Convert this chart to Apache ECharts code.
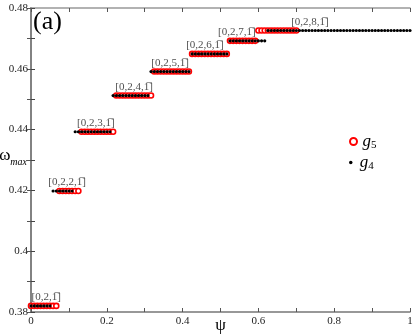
<!DOCTYPE html>
<html><head><meta charset="utf-8">
<script src="https://cdn.jsdelivr.net/npm/echarts@6/dist/echarts.min.js"></script>
<style>html,body{margin:0;padding:0;background:#fff}#c{width:415px;height:335px}</style>
</head><body><div id="c"></div>
<script>
// sampling step along psi
var psiStep = 1 / 120;
// plateau values omega_max for [0,2,n,1bar], n = 1..8
var plateauOmega = [0.382, 0.4198, 0.4393, 0.4512, 0.4591, 0.4649, 0.4692, 0.4726];
var plateauLabels = ['[0,2,1\u0305]', '[0,2,2,1\u0305]', '[0,2,3,1\u0305]', '[0,2,4,1\u0305]', '[0,2,5,1\u0305]', '[0,2,6,1\u0305]', '[0,2,7,1\u0305]', '[0,2,8,1\u0305]'];
var labelPsi = [0.04, 0.095, 0.171, 0.272, 0.367, 0.459, 0.543, 0.736];
// psi ranges (start, end) of each plateau, g5 series
var g5Start = [0.000, 0.075, 0.133, 0.225, 0.325, 0.425, 0.525, 0.600];
var g5End   = [0.0667, 0.125, 0.2167, 0.3167, 0.4167, 0.5167, 0.5917, 0.700];
// psi ranges of each plateau, g4 series
var g4Start = [0.000, 0.0583, 0.1167, 0.2167, 0.3167, 0.425, 0.525, 0.625];
var g4End   = [0.050, 0.1083, 0.2083, 0.3083, 0.4167, 0.5167, 0.6167, 1.000];
var xTicks = [0, 0.2, 0.4, 0.6, 0.8, 1];
var yTicks = [0.38, 0.4, 0.42, 0.44, 0.46, 0.48];

function expand(starts, ends) {
  var out = [];
  for (var p = 0; p < starts.length; p++) {
    var i0 = Math.round(starts[p] / psiStep), i1 = Math.round(ends[p] / psiStep);
    for (var i = i0; i <= i1; i++) out.push([+(i * psiStep).toFixed(5), plateauOmega[p]]);
  }
  return out;
}
var g5 = expand(g5Start, g5End);
var g4 = expand(g4Start, g4End);
var labelData = plateauLabels.map(function (t, k) { return {value: [labelPsi[k], plateauOmega[k]], name: t}; });

var serif = 'Liberation Serif';
function onTick(list, v) { return list.some(function (t) { return Math.abs(t - v) < 1e-6; }); }
var legendText = {rich: {
  g: {fontFamily: serif, fontStyle: 'italic', fontSize: 17, color: '#000'},
  s: {fontFamily: serif, fontSize: 11, color: '#000', verticalAlign: 'bottom', padding: [8, 0, 0, 0]}
}};
function legendFmt(n) { return '{g|g}{s|' + n.slice(1) + '}'; }

var chart = echarts.init(document.getElementById('c'));
chart.setOption({
  animation: false,
  grid: {left: 31, right: 5, top: 8, bottom: 23, containLabel: false, outerBoundsMode: 'none'},
  legend: [{
    left: 344, top: 128, itemWidth: 8, itemHeight: 7, itemGap: 4,
    data: [{name: 'g5', icon: 'circle'}], formatter: legendFmt, textStyle: legendText
  }, {
    left: 344, top: 149, itemWidth: 8, itemHeight: 3.5, itemGap: 4,
    data: [{name: 'g4', icon: 'circle'}], formatter: legendFmt, textStyle: legendText
  }],
  xAxis: [{
    type: 'value', min: 0, max: 1, interval: 0.1,
    axisLine: {onZero: false, lineStyle: {color: '#777', width: 1.5}},
    axisTick: {inside: true, length: 4, lineStyle: {color: '#555'}},
    splitLine: {show: false},
    axisLabel: {margin: 4, fontFamily: serif, fontSize: 11, color: '#222',
      formatter: function (v) { return onTick(xTicks, v) ? String(+v.toFixed(1)) : ''; }},
    name: '\u03c8', nameLocation: 'middle', nameGap: 5, nameMoveOverlap: false,
    nameTextStyle: {fontFamily: serif, fontSize: 17, color: '#000', verticalAlign: 'top'}
  }, {
    type: 'value', position: 'top', min: 0, max: 1, interval: 0.1,
    axisLine: {lineStyle: {color: '#999', width: 1.5}},
    axisTick: {inside: true, length: 4, lineStyle: {color: '#555'}},
    axisLabel: {show: false}, splitLine: {show: false}
  }],
  yAxis: [{
    type: 'value', min: 0.38, max: 0.48, interval: 0.01,
    axisLine: {show: true, onZero: false, lineStyle: {color: '#000', width: 1.5}},
    axisTick: {show: true, inside: true, length: 4, lineStyle: {color: '#444'}},
    splitLine: {show: false},
    axisLabel: {margin: 3, fontFamily: serif, fontSize: 11, color: '#222',
      formatter: function (v) { return onTick(yTicks, v) ? String(+v.toFixed(2)) : ''; }},
    name: '{w|\u03c9}{m|max}', nameLocation: 'middle', nameGap: 4, nameRotate: 0, nameMoveOverlap: false,
    nameTextStyle: {padding: [0, 0, 9, 0], rich: {
      w: {fontFamily: serif, fontSize: 17, color: '#000'},
      m: {fontFamily: serif, fontStyle: 'italic', fontSize: 10, color: '#000', verticalAlign: 'bottom', padding: [14, 0, 0, 0]}
    }}
  }, {
    type: 'value', position: 'right', min: 0.38, max: 0.48, interval: 0.01,
    axisLine: {show: true, lineStyle: {color: '#999', width: 1.5}},
    axisTick: {show: true, inside: true, length: 4, lineStyle: {color: '#555'}},
    axisLabel: {show: false}, splitLine: {show: false}
  }],
  series: [{
    name: 'g5', type: 'scatter', data: g5, symbol: 'circle', symbolSize: 5,
    itemStyle: {color: '#fff', borderColor: '#ff0000', borderWidth: 1.6, opacity: 1}
  }, {
    name: 'g4', type: 'scatter', data: g4, symbol: 'circle', symbolSize: 3.2,
    itemStyle: {color: '#000', opacity: 1}
  }, {
    name: 'labels', type: 'scatter', data: labelData, symbolSize: 0, silent: true,
    label: {show: true, position: 'top', distance: 3, formatter: function (p) { return p.name; },
      fontFamily: serif, fontSize: 11, color: '#222'}
  }],
  graphic: [{type: 'text', left: 33, top: 9,
    style: {text: '(a)', font: '26px "Liberation Serif"', fill: '#000'}}]
});
</script></body></html>
